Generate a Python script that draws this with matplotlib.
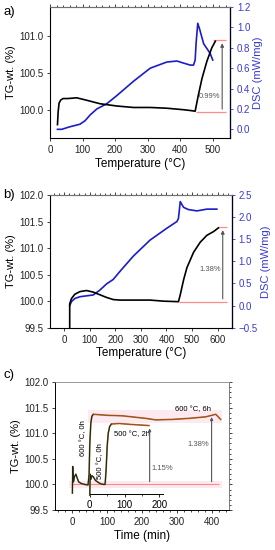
import matplotlib
matplotlib.use("Agg")
import matplotlib.pyplot as plt

plt.rcParams['font.family'] = ['Liberation Sans', 'DejaVu Sans']

# ---- panel a) data ----
a_tg_x = [23, 25, 28, 33, 40, 55, 82, 110, 154, 205, 256, 308, 359, 410, 430, 446, 451, 456, 467, 482, 497, 508]
a_tg_y = [99.81, 99.98, 100.1, 100.14, 100.16, 100.16, 100.17, 100.14, 100.09, 100.06, 100.04, 100.04, 100.03,
          100.01, 100.0, 99.99, 100.1, 100.21, 100.43, 100.66, 100.84, 100.93]
a_dsc_x = [23, 36, 61, 92, 108, 123, 144, 174, 205, 256, 308, 359, 390, 410, 431, 441, 446, 449, 454, 460, 472, 492, 500]
a_dsc_y = [0.0, 0.0, 0.025, 0.05, 0.085, 0.14, 0.2, 0.25, 0.33, 0.47, 0.6, 0.66, 0.67, 0.65, 0.63, 0.63, 0.68,
           0.85, 1.04, 0.98, 0.84, 0.745, 0.68]
a_base, a_top = 99.98, 100.94
a_label = "0.99%"

# ---- panel b) data ----
b_tg_x = [22, 22, 29, 42, 62, 88, 114, 140, 166, 192, 218, 271, 336, 388, 447, 454, 467, 480, 506, 532, 558, 584, 603]
b_tg_y = [99.5, 99.95, 100.05, 100.13, 100.18, 100.2, 100.17, 100.12, 100.07, 100.03, 100.02, 100.02, 100.02,
          100.0, 99.99, 100.12, 100.4, 100.63, 100.92, 101.11, 101.24, 101.31, 101.38]
b_dsc_x = [22, 29, 42, 62, 88, 114, 140, 166, 192, 218, 271, 336, 402, 441, 447, 454, 467, 486, 519, 558, 597]
b_dsc_y = [0.0, 0.09, 0.16, 0.2, 0.22, 0.24, 0.35, 0.49, 0.59, 0.77, 1.12, 1.48, 1.75, 1.9, 1.97, 2.35, 2.22,
           2.17, 2.14, 2.18, 2.18]
b_base, b_top = 99.99, 101.39
b_label = "1.38%"

# ---- panel c) data ----
# 600 C run, main time axis
c6_x = [0, 1, 3, 6, 10, 14, 18, 25, 35, 45, 48, 50, 53, 56, 60, 100, 144, 211, 240, 288, 335, 383, 412, 426]
c6_y = [99.83, 100.35, 100.05, 100.15, 100.2, 100.12, 100.05, 100.02, 100.0, 99.99, 100.2, 100.8, 101.2, 101.33,
        101.37, 101.35, 101.34, 101.29, 101.26, 101.27, 101.29, 101.32, 101.37, 101.27]
# 500 C run, inset time axis (starts 50 min later)
c5_x = [0, 1, 3, 6, 10, 16, 24, 32, 40, 44, 47, 50, 53, 57, 62, 84, 122, 170]
c5_y = [99.79, 100.2, 100.1, 100.17, 100.15, 100.08, 100.04, 100.01, 100.0, 100.0, 100.3, 100.75, 101.0, 101.13,
        101.18, 101.19, 101.17, 101.15]
c_shift = 50
c5_end, c6_end = 222, 400
c5_top, c6_top = 101.15, 101.37

blue = '#1c1cc8'
tblue = '#3a3ad0'
red = '#ff8a8a'
grey = '#555555'

fig = plt.figure(figsize=(2.75, 5.5), dpi=100)
ax_a = fig.add_axes([0.1818, 0.7491, 0.6545, 0.2382])
ax_b = fig.add_axes([0.1818, 0.4042, 0.6607, 0.2413])
ax_c = fig.add_axes([0.2, 0.0727, 0.6327, 0.2327])


def style(ax, twin=None):
    ax.tick_params(labelsize=7, length=2.5, width=0.6, direction='out', colors='#222222', pad=2.5)
    ax.minorticks_on()
    ax.tick_params(which='minor', length=1.5, width=0.5, left=False, bottom=False, top=True)
    ax.tick_params(axis='x', which='both', top=True, labeltop=False)
    for s in ['left', 'bottom']:
        ax.spines[s].set_linewidth(0.7)
    ax.spines['top'].set_color('#888888')
    ax.spines['top'].set_linewidth(0.6)
    if twin is not None:
        twin.spines['right'].set_color(blue)
        twin.spines['right'].set_linewidth(0.9)
        twin.tick_params(axis='y', labelsize=7, colors=tblue, length=2.5, width=0.6, direction='out', pad=2.5)
        twin.set_ylabel("DSC (mW/mg)", color=tblue, fontsize=8, labelpad=2)


def mark(ax, x0, x1, xt, base, top, label, xarrow, ytext):
    ax.hlines(base, x0, x1, color=red, lw=0.9, zorder=3)
    ax.hlines(top, xt, x1, color=red, lw=0.9, zorder=3)
    ax.annotate("", xy=(xarrow, top), xytext=(xarrow, base),
                arrowprops=dict(arrowstyle='-|>', color=grey, lw=0.8, mutation_scale=5), zorder=4)
    ax.text(xarrow - 6, ytext, label, fontsize=5.5, color=grey, ha='right', va='center')


# panel a
tw_a = ax_a.twinx()
ax_a.plot(a_tg_x, a_tg_y, color='black', lw=1.2, zorder=5)
tw_a.plot(a_dsc_x, a_dsc_y, color=blue, lw=1.2)
ax_a.set_xlim(0, 553)
ax_a.set_ylim(99.63, 101.39)
tw_a.set_ylim(-0.085, 1.2)
ax_a.set_xticks([0, 100, 200, 300, 400, 500])
ax_a.set_yticks([100.0, 100.5, 101.0])
tw_a.set_yticks([0.0, 0.2, 0.4, 0.6, 0.8, 1.0, 1.2])
mark(ax_a, 449, 542, 500, a_base, a_top, a_label, 529, 100.19)
ax_a.set_xlabel("Temperature (°C)", fontsize=8.5, labelpad=2)
ax_a.set_ylabel("TG-wt. (%)", fontsize=8, labelpad=2)
style(ax_a, tw_a)
ax_a.set_zorder(tw_a.get_zorder() + 1)
ax_a.patch.set_visible(False)

# panel b
tw_b = ax_b.twinx()
ax_b.plot(b_tg_x, b_tg_y, color='black', lw=1.2, zorder=5)
tw_b.plot(b_dsc_x, b_dsc_y, color=blue, lw=1.2)
ax_b.set_xlim(-55, 655)
ax_b.set_ylim(99.5, 102.0)
tw_b.set_ylim(-0.5, 2.5)
ax_b.set_xticks([0, 100, 200, 300, 400, 500, 600])
ax_b.set_yticks([99.5, 100.0, 100.5, 101.0, 101.5, 102.0])
tw_b.set_yticks([-0.5, 0.0, 0.5, 1.0, 1.5, 2.0, 2.5])
mark(ax_b, 450, 636, 603, b_base, b_top, b_label, 620, 100.6)
ax_b.set_xlabel("Temperature (°C)", fontsize=8.5, labelpad=2)
ax_b.set_ylabel("TG-wt. (%)", fontsize=8, labelpad=2)
style(ax_b, tw_b)
ax_b.set_zorder(tw_b.get_zorder() + 1)
ax_b.patch.set_visible(False)

# panel c
ax_c.fill_between([-10, 430], 99.93, 100.06, color='#fdeaf0', lw=0, zorder=0)
ax_c.fill_between([45, 430], 101.2, 101.46, color='#fdeaf0', lw=0, zorder=0)
ax_c.hlines(100.0, -5, 421, color=red, lw=0.8, zorder=1)
ax_c.plot(c6_x, c6_y, color='#9c8a3a', lw=1.2, zorder=2)
ax_c.plot(c6_x[:15], c6_y[:15], color='#222222', lw=0.8, zorder=3)
ax_c.plot(c6_x[14:], c6_y[14:], color='#b03a1e', lw=0.6, zorder=3)
ax_c.set_xlim(-50, 450)
ax_c.set_ylim(99.5, 102.0)
ax_c.set_xticks([0, 100, 200, 300, 400])
ax_c.set_yticks([99.5, 100.0, 100.5, 101.0, 101.5, 102.0])
ax_c.set_xlabel("Time (min)", fontsize=8.5, labelpad=2)
ax_c.set_ylabel("TG-wt. (%)", fontsize=8, labelpad=2)
style(ax_c)
ax_c.tick_params(axis='y', which='both', right=True, labelright=False)
ax_c.tick_params(axis='y', which='minor', right=True, length=1.5)
ax_c.spines['right'].set_color('#666666')
ax_c.spines['right'].set_linewidth(0.6)

# inset time axis for the 500 C run
in_c = ax_c.twiny()
in_c.set_xlim(-50 - c_shift, 450 - c_shift)
in_c.plot(c5_x, c5_y, color='#9c8a3a', lw=1.2, zorder=2)
in_c.plot(c5_x[:15], c5_y[:15], color='#222222', lw=0.8, zorder=3)
in_c.plot(c5_x[14:], c5_y[14:], color='#b03a1e', lw=0.6, zorder=3)
for s in ['top', 'left', 'right']:
    in_c.spines[s].set_visible(False)
in_c.spines['bottom'].set_visible(True)
in_c.spines['bottom'].set_position(('data', 99.81))
in_c.spines['bottom'].set_bounds(0, 210)
in_c.spines['bottom'].set_linewidth(0.7)
in_c.xaxis.set_ticks_position('bottom')
in_c.xaxis.set_label_position('bottom')
in_c.set_xticks([0, 100, 200])
in_c.minorticks_on()
in_c.tick_params(axis='x', which='major', labelsize=7, length=2.5, width=0.6, direction='out', pad=1.5)
in_c.tick_params(axis='x', which='minor', length=1.5, width=0.5, direction='out')
in_c.set_xticks([50, 150], minor=True)
in_c.tick_params(axis='y', left=False, right=False, labelleft=False, labelright=False)

for xe, top in [(c5_end, c5_top), (c6_end, c6_top)]:
    ax_c.annotate("", xy=(xe, top), xytext=(xe, 100.0),
                  arrowprops=dict(arrowstyle='-|>', color=grey, lw=0.8, mutation_scale=4), zorder=4)
ax_c.text(226, 100.31, "1.15%", fontsize=5.5, color=grey, ha='left', va='center')
ax_c.text(393, 100.77, "1.38%", fontsize=5.5, color=grey, ha='right', va='center')
ax_c.text(31, 100.9, "600 °C, 0h", fontsize=5.5, rotation=90, ha='center', va='center')
ax_c.text(82, 100.45, "500 °C, 0h", fontsize=5.5, rotation=90, ha='center', va='center')
ax_c.text(120, 100.97, "500 °C, 2h", fontsize=5.5, ha='left', va='center')
ax_c.text(398, 101.46, "600 °C, 6h", fontsize=5.5, ha='right', va='center')

fig.text(0.011, 0.978, "a)", fontsize=9.5, va='center')
fig.text(0.011, 0.645, "b)", fontsize=9.5, va='center')
fig.text(0.011, 0.318, "c)", fontsize=9.5, va='center')

fig.savefig("out.png", dpi=100)
